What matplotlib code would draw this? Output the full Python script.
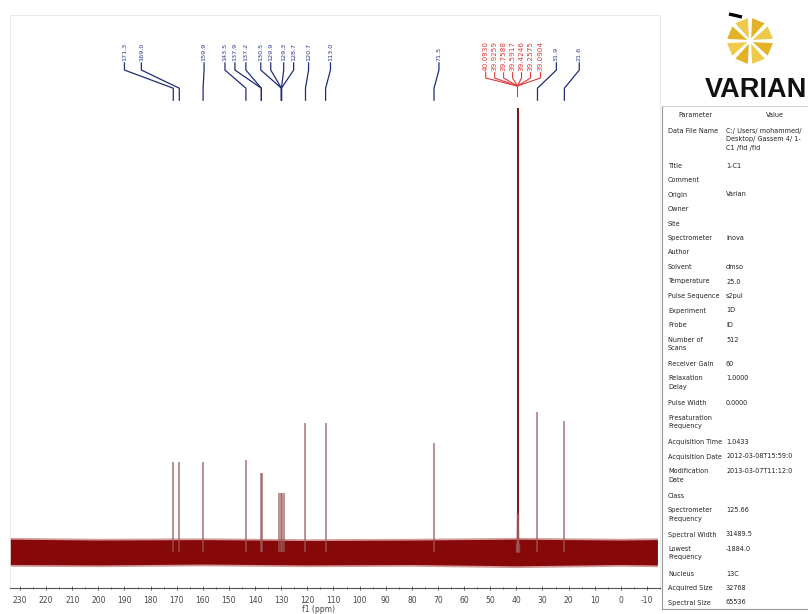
import numpy as np
import matplotlib
matplotlib.use('Agg')
import matplotlib.pyplot as plt
from matplotlib.patches import Polygon

plt.rcParams['axes.unicode_minus'] = False

# peaks (ppm, relative height; DMSO = 100)
peak_ppm = [171.3, 169.0, 159.9, 143.5, 137.9, 137.3, 130.8, 130.2, 129.6, 129.0,
            120.7, 113.0, 71.5, 39.5, 31.9, 21.6]
peak_height = [20.3, 20.3, 20.3, 20.7, 17.8, 17.8, 13.3, 13.3, 13.3, 13.3,
               29.0, 29.0, 24.5, 100.0, 31.5, 29.5]

# DMSO-d6 septet foot
dmso_ppm = [40.06, 39.89, 39.73, 39.57, 39.40, 39.23, 39.06]
dmso_height = [2.0, 5.0, 8.8, 8.8, 8.8, 5.0, 2.0]

# baseline noise envelope
noise_ppm = [234, 200, 160, 120, 80, 40, 0, -14]
noise_hi = [2.9, 2.7, 2.8, 2.6, 2.7, 2.9, 2.7, 2.8]
noise_lo = [-2.8, -2.9, -2.7, -2.9, -2.8, -3.1, -2.8, -2.9]

# peak labels
blue_labels = ["171.3", "169.0", "159.9", "143.5", "137.9", "137.2",
               "130.5", "129.9", "129.3", "128.7", "120.7", "113.0",
               "71.5", "31.9", "21.6"]
blue_targets = [171.3, 169.0, 159.9, 143.5, 137.6, 137.6, 129.9, 129.9, 129.9, 129.9,
                120.7, 113.0, 71.5, 31.9, 21.6]
red_labels = ["40.0930", "39.9259", "39.7588", "39.5917", "39.4246", "39.2575", "39.0904"]

# parameter table
param_names = ["Data File Name", "Title", "Comment", "Origin", "Owner", "Site",
               "Spectrometer", "Author", "Solvent", "Temperature", "Pulse Sequence",
               "Experiment", "Probe", "Number of\nScans", "Receiver Gain",
               "Relaxation\nDelay", "Pulse Width", "Presaturation\nFrequency",
               "Acquisition Time", "Acquisition Date", "Modification\nDate", "Class",
               "Spectrometer\nFrequency", "Spectral Width", "Lowest\nFrequency",
               "Nucleus", "Acquired Size", "Spectral Size"]
param_values = ["C:/ Users/ mohammed/\nDesktop/ Gassem 4/ 1-\nC1 /fid /fid", "1-C1", "",
                "Varian", "", "", "inova", "", "dmso", "25.0", "s2pul", "1D", "ID",
                "512", "60", "1.0000", "0.0000", "", "1.0433",
                "2012-03-08T15:59:0", "2013-03-07T11:12:0", "", "125.66",
                "31489.5", "-1884.0", "13C", "32768", "65536"]


def px2ppm(x):
    return 230 - (x - 20) / 2.625


fig = plt.figure(figsize=(8.08, 6.14), dpi=100)
ax = fig.add_axes([10 / 808, 26 / 614, 650 / 808, 573 / 614])

ax.fill_between(noise_ppm, np.array(noise_lo) - 0.4, np.array(noise_hi) + 0.4,
                color='#a83838', alpha=0.5, lw=0)
ax.fill_between(noise_ppm, noise_lo, noise_hi, color='#860808', lw=0)

ax.vlines(peak_ppm, 0, peak_height, color='#9c5a5a', lw=1.1, alpha=0.85)
ax.vlines([39.5], 0, [100], color='#7a0a0a', lw=1.3)
ax.vlines(dmso_ppm, 0, dmso_height, color='#9c5a5a', lw=1.0, alpha=0.7)

# blue labels + leaders
blue_px = [125, 142, 205, 226, 236, 247, 262, 272, 285, 295, 310, 332, 441, 559, 582]
for lab, px, tgt in zip(blue_labels, blue_px, blue_targets):
    lx = px2ppm(px)
    ax.text(lx, 110.6, lab, rotation=90, ha='center', va='bottom',
            fontsize=4.6, color='#2b3a8c')
    ax.plot([lx, lx, tgt, tgt], [110.2, 108.6, 104.5, 101.8],
            color='#1f2d7a', lw=0.9)

# red labels + leaders
red_px = [488, 497, 506, 515, 524, 533, 543]
for lab, px in zip(red_labels, red_px):
    lx = px2ppm(px)
    ax.text(lx, 108.4, lab, rotation=90, ha='center', va='bottom',
            fontsize=5.2, color='#e03a3a')
    ax.plot([lx, lx, 39.6], [108.0, 106.8, 105.0], color='#e03a3a', lw=0.8)
ax.plot([39.6, 39.6], [105.0, 102.8], color='#e03a3a', lw=0.8)

ax.set_xlim(px2ppm(10), px2ppm(660))
ax.set_ylim(-8.1, 121)
ax.set_xticks(np.arange(-10, 231, 10))
ax.set_xticks(np.arange(-15, 234, 5), minor=True)
ax.tick_params(axis='x', labelsize=5.5, colors='#444444', length=3, width=0.6,
               direction='inout', pad=4)
ax.tick_params(axis='x', which='minor', length=2, width=0.5, direction='inout')
ax.set_yticks([])
ax.set_xlabel("f1 (ppm)", fontsize=5.5, color='#444444', labelpad=0)
ax.xaxis.set_label_coords((318 - 10) / 650, -0.03)
for s in ['top', 'left', 'right']:
    ax.spines[s].set_color('#e6e6e6')
    ax.spines[s].set_linewidth(0.6)
ax.spines['bottom'].set_color('#555555')
ax.spines['bottom'].set_linewidth(0.8)

# overlay in pixel coordinates for logo and table
ov = fig.add_axes([0, 0, 1, 1], zorder=5)
ov.set_xlim(0, 808)
ov.set_ylim(614, 0)
ov.axis('off')
ov.patch.set_alpha(0)

# Varian starburst
cx, cy = 750, 41
for k in range(8):
    th = np.deg2rad(22.5 + k * 45)
    r_in, r_out = 3, 23
    pts = [(cx + r_in * np.cos(th), cy + r_in * np.sin(th)),
           (cx + r_out * np.cos(th - 0.30), cy + r_out * np.sin(th - 0.30)),
           (cx + r_out * np.cos(th + 0.30), cy + r_out * np.sin(th + 0.30))]
    col = '#e2b327' if k % 2 == 0 else '#efc94a'
    ov.add_patch(Polygon(pts, closed=True, color=col, lw=0))
ov.plot([729, 742], [14, 17], color='black', lw=2.4, solid_capstyle='butt')
ov.text(705, 97, "VARIAN", fontsize=19.5, fontweight='bold',
        family='Liberation Sans', color='#111111', ha='left', va='baseline')

# table frame
ov.plot([662, 662, 808], [106, 609, 609], color='#9a9a9a', lw=0.8)
ov.plot([662, 808], [106, 106], color='#c8c8c8', lw=0.6)
ov.text(695, 115, "Parameter", fontsize=4.7, color='#222222', ha='center', va='center')
ov.text(775, 115, "Value", fontsize=4.7, color='#222222', ha='center', va='center')

y = 128
for name, val in zip(param_names, param_values):
    ov.text(668, y, name, fontsize=4.7, color='#222222', ha='left', va='top',
            linespacing=1.5)
    ov.text(726, y, val, fontsize=4.7, color='#222222', ha='left', va='top',
            linespacing=1.5)
    nlines = max(name.count('\n'), val.count('\n')) + 1
    y += 14.5 + 10 * (nlines - 1)

fig.savefig("out.png", dpi=100)
